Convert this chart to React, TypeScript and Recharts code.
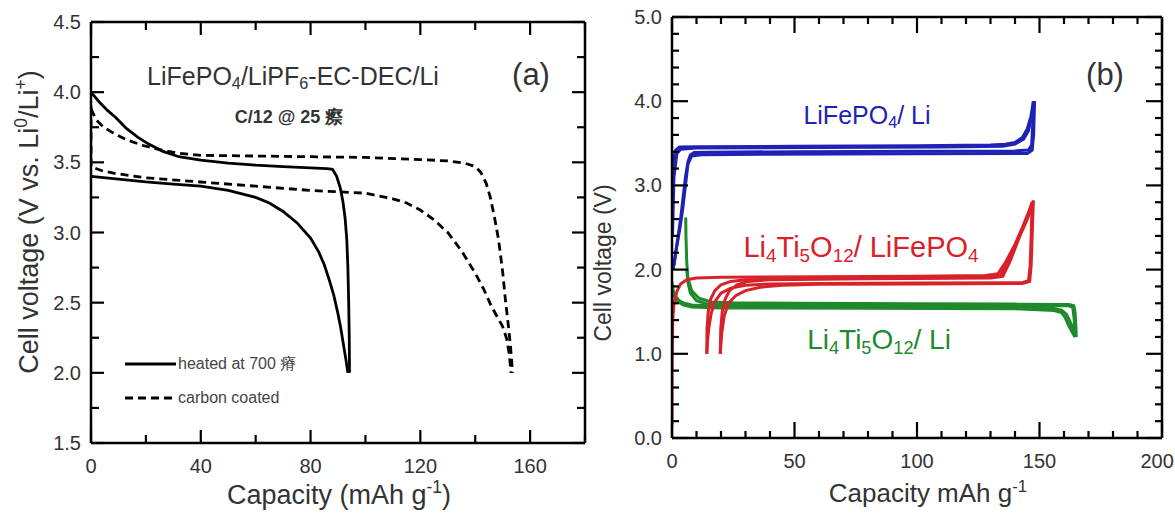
import React from 'react';
import { LineChart, Line, XAxis, YAxis } from 'recharts';

// ---------- panel (a): LiFePO4 charge / discharge, [capacity, voltage]
const heatedCharge = [
  [0, 4.0], [3, 3.93], [6, 3.87], [9, 3.82], [13, 3.74], [17, 3.68], [21, 3.63], [26, 3.58],
  [32, 3.54], [40, 3.515], [50, 3.495], [60, 3.48], [70, 3.47], [80, 3.46], [86, 3.455], [88, 3.45],
  [89.5, 3.4], [90.8, 3.32], [91.8, 3.22], [92.6, 3.1], [93.2, 2.95], [93.6, 2.75], [93.9, 2.5],
  [94.1, 2.25], [94.2, 2.0],
];
const heatedDischarge = [
  [0, 3.4], [10, 3.38], [20, 3.36], [30, 3.345], [40, 3.33], [50, 3.3], [60, 3.25], [65, 3.21],
  [70, 3.15], [75, 3.07], [80, 2.96], [83, 2.86], [85, 2.77], [87, 2.65], [88.5, 2.55], [90, 2.42],
  [91, 2.32], [92, 2.2], [93, 2.08], [93.6, 2.0],
];
const carbonCharge = [
  [0, 3.88], [2, 3.8], [4.6, 3.75], [8, 3.71], [13, 3.66], [19, 3.62], [25, 3.59], [32, 3.565],
  [40, 3.55], [60, 3.545], [80, 3.54], [100, 3.535], [120, 3.52], [130, 3.51], [136, 3.495],
  [140, 3.47], [142, 3.43], [144, 3.35], [145.5, 3.25], [147, 3.11], [148.5, 2.95], [150, 2.72],
  [151, 2.52], [152, 2.35], [152.8, 2.2], [153.3, 2.08], [153.6, 2.0],
];
const carbonDischarge = [
  [0, 3.9], [0, 3.47], [4, 3.44], [9, 3.42], [20, 3.39], [40, 3.36], [60, 3.33], [80, 3.3],
  [100, 3.28], [110, 3.24], [115, 3.21], [120, 3.16], [125, 3.09], [130, 3.0], [135, 2.87],
  [140, 2.71], [143, 2.6], [146, 2.47], [148, 2.4], [150, 2.33], [151.5, 2.24], [152.5, 2.12], [153, 2.0],
];
const xTicksA = [0, 20, 40, 60, 80, 100, 120, 140, 160, 180];
const xLabelsA = [0, 40, 80, 120, 160];
const yTicksA = [1.5, 1.75, 2, 2.25, 2.5, 2.75, 3, 3.25, 3.5, 3.75, 4, 4.25, 4.5];
const yLabelsA = [1.5, 2, 2.5, 3, 3.5, 4, 4.5];

// ---------- panel (b): cycling curves
const blueCycles = [
  [[0, 3.05], [0.6, 3.3], [1.5, 3.42], [3, 3.455], [10, 3.46], [50, 3.465], [100, 3.47], [130, 3.48],
    [136, 3.49], [140, 3.51], [143, 3.57], [145, 3.67], [146.5, 3.82], [147.5, 4.0]],
  [[147.5, 4.0], [147.2, 3.7], [146.8, 3.48], [145.5, 3.42], [140, 3.41], [100, 3.405], [50, 3.4],
    [15, 3.395], [9, 3.39], [7.5, 3.36], [6.5, 3.28], [5.5, 3.1], [4.5, 2.85], [3.5, 2.6], [2.5, 2.4],
    [1.5, 2.2], [0.5, 2.0]],
  [[0.2, 2.4], [0.8, 3.1], [2, 3.38], [3.5, 3.43], [10, 3.445], [60, 3.45], [110, 3.455], [135, 3.465],
    [140, 3.49], [143.5, 3.55], [145.5, 3.65], [147, 3.85], [148, 4.0]],
  [[148, 4.0], [147.6, 3.6], [147, 3.42], [145, 3.38], [100, 3.375], [40, 3.37], [12, 3.365], [8, 3.35],
    [6.5, 3.25], [5.5, 3.0], [4.3, 2.7], [3, 2.45], [1.8, 2.25], [0.8, 2.05]],
];
const redCycles = [
  [[0, 0.15], [0, 0.8], [0.3, 1.4], [0.8, 1.6], [2, 1.74], [3.5, 1.83], [6, 1.88], [10, 1.9], [20, 1.91],
    [60, 1.915], [100, 1.92], [128, 1.93], [133, 1.95], [136, 2.08], [140, 2.3], [143, 2.5], [145.5, 2.68], [147, 2.8]],
  [[147, 2.8], [146.6, 2.4], [146.2, 2.05], [145.5, 1.87], [143, 1.845], [100, 1.84], [60, 1.835], [40, 1.83],
    [30, 1.815], [24, 1.78], [20, 1.72], [17.5, 1.62], [16, 1.48], [15, 1.3], [14.5, 1.15], [14.2, 1.0]],
  [[14.2, 1.0], [14.3, 1.3], [14.8, 1.5], [15.8, 1.65], [17.5, 1.75], [20, 1.82], [24, 1.86], [30, 1.88],
    [50, 1.89], [100, 1.9], [130, 1.91], [134, 1.93], [137, 2.1], [141, 2.35], [144, 2.55], [146.5, 2.72], [147.5, 2.82]],
  [[147.5, 2.82], [147, 2.4], [146.6, 2.05], [146, 1.86], [143, 1.835], [100, 1.83], [60, 1.825], [45, 1.815],
    [36, 1.79], [30, 1.75], [26, 1.69], [23, 1.6], [21.3, 1.45], [20.3, 1.25], [19.7, 1.0]],
  [[19.7, 1.0], [19.9, 1.3], [20.5, 1.5], [21.7, 1.65], [23.5, 1.75], [26.5, 1.82], [31, 1.86], [40, 1.88],
    [80, 1.89], [130, 1.9], [135, 1.92], [138, 2.1], [142, 2.4], [145, 2.6], [147, 2.76]],
];
const greenCycles = [
  [[0, 1.85], [0.5, 1.75], [1.5, 1.68], [3, 1.63], [5, 1.6], [8, 1.58], [15, 1.57], [50, 1.565], [100, 1.56],
    [140, 1.555], [155, 1.545], [159, 1.52], [161, 1.47], [162.5, 1.38], [164, 1.28], [165, 1.2]],
  [[165, 1.2], [164.8, 1.35], [164.5, 1.5], [164, 1.57], [162, 1.585], [140, 1.59], [100, 1.595], [50, 1.6],
    [25, 1.605], [16, 1.615], [11, 1.66], [8, 1.75], [6.5, 1.9], [6, 2.1], [5.7, 2.4], [5.6, 2.62]],
  [[0.3, 1.75], [1, 1.68], [2.5, 1.62], [4.5, 1.58], [8, 1.555], [20, 1.545], [80, 1.54], [140, 1.535],
    [156, 1.515], [159, 1.49], [160.5, 1.43], [162, 1.33], [163.5, 1.25], [164.5, 1.2]],
  [[164.5, 1.2], [164.2, 1.4], [163.6, 1.55], [162, 1.57], [120, 1.575], [60, 1.58], [25, 1.585], [14, 1.595],
    [10, 1.63], [7.5, 1.72], [6.5, 1.85], [6, 2.0]],
];
const xTicksB = [0, 10, 20, 30, 40, 50, 60, 70, 80, 90, 100, 110, 120, 130, 140, 150, 160, 170, 180, 190, 200];
const xLabelsB = [0, 50, 100, 150, 200];
const yTicksB = [0, 0.2, 0.4, 0.6, 0.8, 1, 1.2, 1.4, 1.6, 1.8, 2, 2.2, 2.4, 2.6, 2.8, 3, 3.2, 3.4, 3.6, 3.8, 4, 4.2, 4.4, 4.6, 4.8, 5];
const yLabelsB = [0, 1, 2, 3, 4, 5];

const FONT = '"Liberation Sans", Arial, sans-serif';
const BLUE = '#1f22b5';
const RED = '#d8222a';
const GREEN = '#1e8a2c';
const INK = '#333';

const toPts = (arr: number[][]) => arr.map(([x, y]) => ({ x, y }));
const has = (list: number[], v: number) => list.some((l) => Math.abs(l - v) < 1e-6);

// inward tick marks, labels only on the major values
const makeTick = (side: string, labels: number[], major: number, minor: number, fs: number, off: number, maxX: number) =>
  (props: any) => {
    const { x, y, payload } = props;
    const v = payload.value;
    const isMajor = has(labels, v);
    const L = isMajor ? major : minor;
    let line;
    if (side === 'bottom') line = <line x1={x} y1={y} x2={x} y2={y - L} />;
    else if (side === 'top') line = <line x1={x} y1={y} x2={x} y2={y + L} />;
    else if (side === 'left') line = <line x1={x} y1={y} x2={x + L} y2={y} />;
    else line = <line x1={x} y1={y} x2={x - L} y2={y} />;
    const txt = String(side === 'bottom' ? v : v.toFixed(1));
    // keep the last label inside the page
    const halfW = txt.length * fs * 0.28;
    const tx = Math.min(x, maxX - halfW);
    return (
      <g stroke="#000" strokeWidth={2.2}>
        {line}
        {isMajor && side === 'bottom' && (
          <text x={tx} y={y + off} textAnchor="middle" dominantBaseline="central" stroke="none" fill={INK} fontSize={fs} fontFamily={FONT}>{txt}</text>
        )}
        {isMajor && side === 'left' && (
          <text x={x - off} y={y} textAnchor="end" dominantBaseline="central" stroke="none" fill={INK} fontSize={fs} fontFamily={FONT}>{txt}</text>
        )}
      </g>
    );
  };

const Txt = ({ x, y, size, color = INK, bold = false, rotate = false, align = 'center', children }: any) => (
  <div
    style={{
      position: 'absolute', left: x, top: y, whiteSpace: 'nowrap', lineHeight: 1,
      transform: `translate(${align === 'left' ? '0' : '-50%'}, -50%)${rotate ? ' rotate(-90deg)' : ''}`,
      fontSize: size, color, fontWeight: bold ? 'bold' : 'normal', fontFamily: FONT,
    }}
  >
    {children}
  </div>
);
const Sub = ({ children }: any) => <sub style={{ fontSize: '0.65em', verticalAlign: '-0.3em', lineHeight: 0 }}>{children}</sub>;
const Sup = ({ children }: any) => <sup style={{ fontSize: '0.65em', verticalAlign: '0.6em', lineHeight: 0 }}>{children}</sup>;

// axis boxes are 1px thick so recharts still draws them
const frameAxes = (xDom: number[], yDom: number[], xt: number[], yt: number[], xl: number[], yl: number[], maj: number, min: number, fs: number, xOff: number, yOff: number, maxX: number) => [
  <XAxis key="xb" xAxisId="b" type="number" dataKey="x" domain={xDom} ticks={xt} allowDataOverflow interval={0}
    height={1} tickSize={0} tickMargin={0} tickLine={false} axisLine={{ stroke: '#000', strokeWidth: 2.5 }}
    tick={makeTick('bottom', xl, maj, min, fs, xOff, maxX)} />,
  <XAxis key="xt" xAxisId="t" orientation="top" type="number" dataKey="x" domain={xDom} ticks={xt} allowDataOverflow interval={0}
    height={1} tickSize={0} tickMargin={0} tickLine={false} axisLine={{ stroke: '#000', strokeWidth: 2.5 }}
    tick={makeTick('top', xl, maj, min, fs, xOff, maxX)} />,
  <YAxis key="yl" yAxisId="l" type="number" dataKey="y" domain={yDom} ticks={yt} allowDataOverflow interval={0}
    width={1} tickSize={0} tickMargin={0} tickLine={false} axisLine={{ stroke: '#000', strokeWidth: 2.5 }}
    tick={makeTick('left', yl, maj, min, fs, yOff, maxX)} />,
  <YAxis key="yr" yAxisId="r" orientation="right" type="number" dataKey="y" domain={yDom} ticks={yt} allowDataOverflow interval={0}
    width={1} tickSize={0} tickMargin={0} tickLine={false} axisLine={{ stroke: '#000', strokeWidth: 2.5 }}
    tick={makeTick('right', yl, maj, min, fs, yOff, maxX)} />,
];

const App = () => {
  return (
    <div style={{ position: 'absolute', left: 0, top: 0, width: 1175, height: 514, background: '#fff', overflow: 'hidden' }}>
      <div style={{ position: 'absolute', left: 0, top: 0 }}>
        <LineChart width={600} height={514} margin={{ top: 21, left: 90, right: 14, bottom: 70 }}>
          {frameAxes([0, 180], [1.5, 4.5], xTicksA, yTicksA, xLabelsA, yLabelsA, 13, 8, 20, 23, 10, 600)}
          <Line xAxisId="b" yAxisId="l" data={toPts(heatedCharge)} dataKey="y" type="linear" stroke="#000" strokeWidth={2.8} dot={false} isAnimationActive={false} />
          <Line xAxisId="b" yAxisId="l" data={toPts(heatedDischarge)} dataKey="y" type="linear" stroke="#000" strokeWidth={2.8} dot={false} isAnimationActive={false} />
          <Line xAxisId="b" yAxisId="l" data={toPts(carbonCharge)} dataKey="y" type="linear" stroke="#000" strokeWidth={2.8} strokeDasharray="8 5" dot={false} isAnimationActive={false} />
          <Line xAxisId="b" yAxisId="l" data={toPts(carbonDischarge)} dataKey="y" type="linear" stroke="#000" strokeWidth={2.8} strokeDasharray="8 5" dot={false} isAnimationActive={false} />
        </LineChart>
      </div>
      <div style={{ position: 'absolute', left: 590, top: 0 }}>
        <LineChart width={585} height={514} margin={{ top: 16, left: 81, right: 12, bottom: 75 }}>
          {frameAxes([0, 200], [0, 5], xTicksB, yTicksB, xLabelsB, yLabelsB, 16, 7, 20, 23, 10, 584)}
          {blueCycles.map((c, i) => (
            <Line key={'b' + i} xAxisId="b" yAxisId="l" data={toPts(c)} dataKey="y" type="linear" stroke={BLUE} strokeWidth={3} dot={false} isAnimationActive={false} />
          ))}
          {greenCycles.map((c, i) => (
            <Line key={'g' + i} xAxisId="b" yAxisId="l" data={toPts(c)} dataKey="y" type="linear" stroke={GREEN} strokeWidth={3} dot={false} isAnimationActive={false} />
          ))}
          {redCycles.map((c, i) => (
            <Line key={'r' + i} xAxisId="b" yAxisId="l" data={toPts(c)} dataKey="y" type="linear" stroke={RED} strokeWidth={3} dot={false} isAnimationActive={false} />
          ))}
        </LineChart>
      </div>

      {/* panel (a) texts */}
      <Txt x={29} y={222} size={27} rotate>Cell voltage (V vs. Li<Sup>0</Sup>/Li<Sup>+</Sup>)</Txt>
      <Txt x={339} y={495} size={27}>Capacity (mAh g<Sup>-1</Sup>)</Txt>
      <Txt x={293} y={76} size={25}>LiFePO<Sub>4</Sub>/LiPF<Sub>6</Sub>-EC-DEC/Li</Txt>
      <Txt x={531} y={74} size={31}>(a)</Txt>
      <Txt x={289} y={117} size={18} bold>C/12 @ 25 瘵</Txt>
      <svg style={{ position: 'absolute', left: 0, top: 0 }} width={600} height={514}>
        <line x1={125} y1={364} x2={176} y2={364} stroke="#000" strokeWidth={2.8} />
        <line x1={125} y1={398} x2={176} y2={398} stroke="#000" strokeWidth={2.8} strokeDasharray="8 5" />
      </svg>
      <Txt x={178} y={364} size={16} color="#444" align="left">heated at 700 瘠</Txt>
      <Txt x={178} y={398} size={16} color="#444" align="left">carbon coated</Txt>

      {/* panel (b) texts */}
      <Txt x={603} y={263} size={23} rotate>Cell voltage (V)</Txt>
      <Txt x={928} y={493} size={26}>Capacity mAh g<Sup>-1</Sup></Txt>
      <Txt x={1105} y={74} size={31}>(b)</Txt>
      <Txt x={867} y={115} size={25} color={BLUE}>LiFePO<Sub>4</Sub>/ Li</Txt>
      <Txt x={861} y={247} size={29} color={RED}>Li<Sub>4</Sub>Ti<Sub>5</Sub>O<Sub>12</Sub>/ LiFePO<Sub>4</Sub></Txt>
      <Txt x={879} y={340} size={28} color={GREEN}>Li<Sub>4</Sub>Ti<Sub>5</Sub>O<Sub>12</Sub>/ Li</Txt>
    </div>
  );
};

export default App;
